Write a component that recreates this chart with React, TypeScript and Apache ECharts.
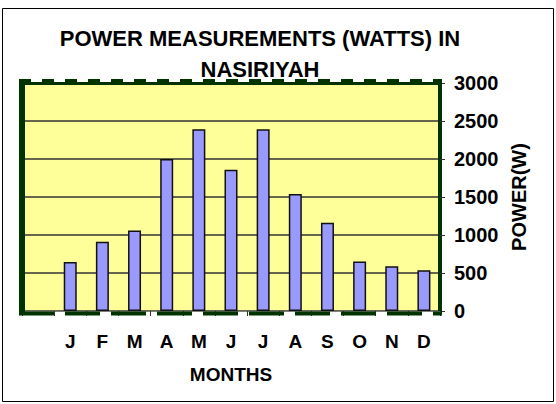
import React, { useEffect, useRef } from "react";
import * as echarts from "echarts";

const months = ["", "J", "F", "M", "A", "M", "J", "J", "A", "S", "O", "N", "D"];
const power = [null, 645, 910, 1060, 2000, 2390, 1860, 2390, 1540, 1160, 650, 590, 535];
const yTicks = { min: 0, max: 3000, interval: 500 };
const titleText = "POWER MEASUREMENTS (WATTS) IN\nNASIRIYAH";
const yName = "POWER(W)";
const xName = "MONTHS";

const FONT = '"Liberation Sans", Arial, sans-serif';
const GREEN = "#003300";

export default function App() {
  const ref = useRef<HTMLDivElement>(null);
  useEffect(() => {
    document.body.style.margin = "0";
    const chart = echarts.init(ref.current!, null, { renderer: "svg" });
    chart.setOption({
      animation: false,
      backgroundColor: "#ffffff",
      grid: {
        left: 22,
        right: 116,
        top: 83,
        bottom: 93,
        show: true,
        backgroundColor: "#FFFF99",
        borderWidth: 0,
      },
      xAxis: {
        type: "category",
        data: months,
        boundaryGap: true,
        name: xName,
        nameLocation: "middle",
        nameGap: 54,
        nameTextStyle: { fontFamily: FONT, fontWeight: "bold", fontSize: 19, color: "#000" },
        axisLine: { show: true, lineStyle: { color: "#808080", width: 1 } },
        axisTick: { show: true, length: 5, interval: 0, lineStyle: { color: "#333" } },
        axisLabel: {
          interval: 0,
          margin: 21,
          fontFamily: FONT,
          fontWeight: "bold",
          fontSize: 19,
          color: "#000",
        },
        splitLine: { show: false },
      },
      yAxis: {
        type: "value",
        position: "right",
        min: yTicks.min,
        max: yTicks.max,
        interval: yTicks.interval,
        name: yName,
        nameLocation: "middle",
        nameRotate: 90,
        nameGap: 67,
        nameTextStyle: { fontFamily: FONT, fontWeight: "bold", fontSize: 20, color: "#000" },
        axisLine: { show: true, lineStyle: { color: GREEN, width: 4 } },
        axisTick: { show: true, length: 5, lineStyle: { color: "#333" } },
        axisLabel: {
          margin: 14,
          formatter: (v: number) => String(v),
          fontFamily: FONT,
          fontWeight: "bold",
          fontSize: 20,
          color: "#000",
        },
        splitLine: { show: true, lineStyle: { color: "#333", width: 1.5 } },
      },
      series: [
        {
          type: "bar",
          data: power,
          barWidth: 13,
          itemStyle: { color: "#9999FF", borderColor: "#111", borderWidth: 1.5 },
          z: 3,
        },
      ],
      graphic: [
        {
          type: "rect",
          silent: true,
          shape: { x: 2.5, y: 8.5, width: 551, height: 393 },
          style: { fill: "none", stroke: "#000", lineWidth: 1 },
          z: 1,
        },
        {
          type: "rect",
          silent: true,
          shape: { x: 19, y: 80, width: 6, height: 235 },
          style: { fill: GREEN },
          z: 10,
        },
        {
          type: "line",
          silent: true,
          shape: { x1: 19, y1: 83.5, x2: 442, y2: 83.5 },
          style: { stroke: GREEN, lineWidth: 3 },
          z: 10,
        },
        {
          type: "line",
          silent: true,
          shape: { x1: 19, y1: 80.5, x2: 442, y2: 80.5 },
          style: { stroke: GREEN, lineWidth: 3, lineDash: [12, 11] },
          z: 10,
        },
        {
          type: "line",
          silent: true,
          shape: { x1: 19, y1: 313.5, x2: 442, y2: 313.5 },
          style: { stroke: GREEN, lineWidth: 4, lineDash: [35, 11] },
          z: 10,
        },
        {
          type: "text",
          silent: true,
          x: 260,
          y: 23,
          style: {
            text: titleText,
            fontFamily: FONT,
            fontWeight: "bold",
            fontSize: 22,
            lineHeight: 31,
            align: "center",
            verticalAlign: "top",
            fill: "#000",
          },
          z: 10,
        },
      ],
    });
    return () => chart.dispose();
  }, []);
  return <div ref={ref} style={{ width: 556, height: 404 }} />;
}
